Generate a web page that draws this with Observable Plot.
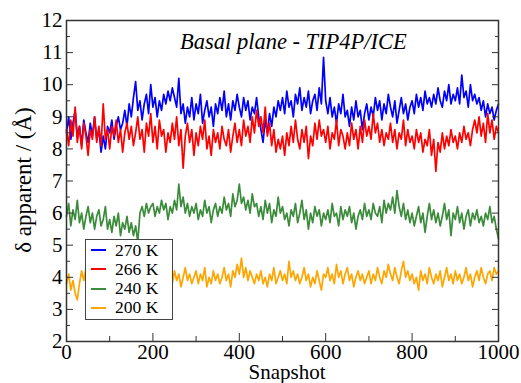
<!DOCTYPE html>
<html><head><meta charset="utf-8">
<script src="https://cdn.jsdelivr.net/npm/d3@7"></script>
<script src="https://cdn.jsdelivr.net/npm/@observablehq/plot@0.6"></script>
<style>
body{margin:0;background:#fff;}
#wrap{position:relative;width:521px;height:383px;overflow:hidden;font-family:'Liberation Serif','Times New Roman',serif;}
.ov{position:absolute;white-space:nowrap;color:#000;line-height:1;font-family:'Liberation Serif','Times New Roman',serif;}
#legend{position:absolute;box-sizing:border-box;left:85px;top:239px;width:88px;height:81px;border:1.5px solid #444;background:#fff;font-size:17.5px;line-height:19.3px;padding:0.5px 0 0 0;font-family:'Liberation Serif','Times New Roman',serif;}
#legend .row{display:flex;align-items:center;height:19.3px;}
#legend .sw{width:15px;height:0;border-top:2px solid;margin:0 9px 0 5px;}
</style></head>
<body><div id="wrap"></div>
<script>
const seriesNames = ["270 K", "266 K", "240 K", "200 K"];
const seriesColors = ["#0000ff", "#ff0000", "#3a8c3a", "#ffa500"];
const snapshotStep = 5;
const xMajor = [0, 200, 400, 600, 800, 1000];
const xMinor = [100, 300, 500, 700, 900];
const yMajor = [2, 3, 4, 5, 6, 7, 8, 9, 10, 11, 12];
const yMinor = [2.5, 3.5, 4.5, 5.5, 6.5, 7.5, 8.5, 9.5, 10.5, 11.5];

const v270 = [
8.5,9.0,8.3,8.8,9.2,8.4,8.7,8.1,8.9,8.5,
8.2,8.8,8.4,9.0,8.3,8.6,7.9,8.4,8.0,8.7,
8.5,8.9,8.3,8.7,9.0,8.6,8.8,9.2,8.7,9.4,
9.0,9.6,10.1,9.2,9.5,8.9,9.4,9.7,9.1,10.0,
9.3,9.6,9.0,9.5,9.2,9.7,9.4,9.8,9.5,9.9,
9.6,9.3,10.2,9.1,9.4,8.8,9.3,9.0,9.6,8.9,
9.4,9.1,9.7,8.8,9.2,9.5,9.0,9.3,8.7,9.4,
9.1,9.6,9.2,9.8,9.0,9.4,8.9,9.5,9.2,9.7,
9.3,9.0,9.6,9.2,9.5,8.9,9.3,9.1,9.6,9.0,
8.6,8.2,8.9,8.5,9.1,8.7,9.3,9.0,9.5,9.2,
9.6,9.1,9.8,9.3,9.5,9.0,9.7,9.4,9.9,9.2,
9.6,9.3,9.8,9.1,9.5,9.7,9.2,9.9,9.4,10.85,
9.5,9.1,9.6,9.0,9.3,8.8,9.4,9.1,9.7,9.0,
9.2,8.7,9.3,8.9,9.5,9.0,9.2,8.6,9.1,9.4,
8.9,9.3,9.0,9.6,9.2,9.5,8.9,9.4,9.1,9.7,
9.3,9.0,9.5,8.8,9.2,9.6,9.1,9.4,8.9,9.3,
9.5,9.1,9.7,9.3,9.6,9.2,9.8,9.4,9.6,9.3,
9.7,9.4,9.9,9.5,9.3,9.8,9.5,10.0,9.4,9.7,
9.5,9.9,9.4,10.3,9.6,9.8,9.3,10.0,9.5,9.7,
9.4,9.6,9.2,9.5,9.0,9.4,9.1,9.3,8.9,9.2,
9.4];
const v266 = [
8.6,8.1,8.9,8.4,9.3,8.2,8.7,8.0,8.8,8.4,
7.8,8.6,8.3,9.0,8.2,8.7,8.1,9.4,8.3,8.6,
8.0,8.7,8.4,8.9,8.2,8.6,7.9,8.5,8.8,8.3,
8.7,8.1,8.5,9.0,8.3,8.6,7.9,8.8,8.4,9.1,
8.2,8.7,8.0,8.9,8.4,8.6,7.9,8.5,8.2,8.8,
8.3,9.0,8.1,8.6,7.4,8.4,8.8,8.2,8.6,7.8,
8.5,8.1,8.7,8.3,8.9,8.0,8.4,7.8,8.6,8.2,
8.5,8.0,8.7,8.3,8.1,8.6,7.9,8.4,8.8,8.2,
8.6,8.1,8.9,8.4,8.7,8.2,9.0,8.5,9.2,8.7,
9.0,8.5,9.3,8.4,8.8,8.1,8.6,7.9,8.3,8.0,
8.4,7.8,8.5,8.1,8.7,8.2,8.9,8.3,8.0,8.6,
8.2,8.7,7.7,8.4,8.1,8.8,8.3,8.9,8.4,8.6,
8.2,8.7,8.0,8.5,8.3,8.9,8.1,8.6,8.4,8.0,
8.5,8.1,8.8,8.3,8.6,8.0,8.7,8.2,8.9,8.4,
8.7,8.3,9.1,8.5,8.8,8.2,8.6,8.1,8.5,8.3,
8.8,8.2,8.6,8.0,8.5,8.3,8.9,8.1,8.6,8.2,
8.4,8.0,8.6,8.2,8.5,7.9,8.3,8.1,8.6,7.8,
8.3,7.3,8.2,7.9,8.5,8.0,8.4,8.1,8.6,8.2,
8.4,8.0,8.5,8.2,8.7,8.3,8.5,8.1,8.6,8.9,
8.5,9.0,8.4,8.8,8.2,9.1,8.5,8.9,8.3,8.7,
8.5];
const v240 = [
5.9,6.3,5.6,6.1,5.8,6.4,5.7,6.0,5.5,5.9,
6.2,5.7,6.0,5.5,5.9,6.1,5.6,5.8,6.2,5.5,
5.8,5.4,5.9,5.6,6.0,5.3,5.7,5.5,5.9,5.4,
5.7,5.3,5.6,5.1,6.0,6.2,5.9,6.3,6.0,6.2,
6.3,5.9,6.2,6.0,6.4,6.1,6.3,5.8,6.2,6.0,
6.4,6.1,6.9,6.2,6.5,6.0,6.3,5.9,6.2,6.0,
6.3,5.8,6.1,5.9,6.4,6.0,6.2,5.7,6.1,6.3,
5.9,6.2,6.0,6.5,6.1,6.3,5.9,6.6,6.2,6.4,
6.9,6.3,6.5,6.1,6.4,6.0,6.6,6.2,6.3,5.9,
6.2,5.8,6.4,6.0,6.3,5.7,6.1,5.9,6.5,6.0,
6.2,5.8,6.0,5.6,6.1,5.9,6.3,5.7,6.0,6.4,
5.8,6.1,5.5,6.0,5.7,6.2,5.9,6.1,5.6,6.0,
5.8,6.1,5.7,6.3,5.9,6.0,5.6,6.2,5.8,6.1,
5.9,6.2,5.7,6.0,5.5,5.9,6.1,5.8,6.3,5.9,
6.1,5.8,6.3,6.0,5.9,6.2,5.7,6.4,6.0,6.3,
6.1,6.5,6.0,6.7,6.2,5.9,6.3,5.8,6.1,5.7,
6.0,5.6,5.9,6.2,5.7,6.0,5.4,5.9,6.3,5.8,
6.1,5.7,6.0,5.6,5.9,6.3,5.8,6.1,5.3,6.0,
5.8,6.2,5.7,6.0,5.5,5.9,6.1,5.6,6.0,5.8,
6.1,5.7,5.9,5.6,6.0,5.8,6.2,5.7,5.9,5.5,
5.2];
const v200 = [
3.8,4.1,3.6,3.9,3.5,3.3,3.8,4.2,3.9,4.3,
4.0,3.7,4.1,3.9,4.3,3.8,4.0,3.7,4.2,3.9,
4.1,3.8,4.3,3.9,4.0,3.7,4.2,3.8,4.1,3.9,
4.2,3.8,4.0,3.6,4.1,3.9,4.3,3.8,4.0,4.2,
3.9,4.1,3.8,4.4,4.0,4.2,3.9,4.3,4.1,3.8,
4.2,3.9,4.1,3.7,4.0,4.3,3.9,4.1,3.8,4.0,
4.2,3.8,4.1,3.9,4.3,3.7,4.0,3.8,4.2,3.9,
4.1,3.8,4.0,4.3,3.9,4.1,3.7,4.2,4.0,4.4,
4.1,4.6,4.0,4.3,3.9,4.2,4.0,3.8,4.1,3.9,
4.2,3.8,4.0,3.7,4.1,3.9,4.3,3.8,4.0,4.2,
3.9,4.1,3.8,4.5,4.0,4.2,3.9,4.1,3.8,4.0,
4.3,3.9,4.1,3.7,4.0,3.8,4.2,3.9,3.6,4.1,
4.0,4.3,3.9,4.1,3.8,4.4,4.0,4.2,3.8,4.1,
4.3,3.9,4.1,3.7,4.0,4.2,3.9,4.1,3.8,4.0,
4.2,3.8,4.1,3.9,4.3,4.0,3.8,4.2,4.0,4.4,
4.1,3.9,4.3,4.0,3.8,4.2,4.5,4.0,4.2,3.9,
4.1,3.8,4.0,3.6,4.2,3.9,4.1,3.8,4.3,4.0,
3.8,4.1,3.9,4.2,3.7,4.0,4.3,3.9,4.1,3.8,
4.2,3.9,4.1,3.8,4.0,4.3,3.9,4.1,3.7,4.0,
4.2,3.9,4.3,4.0,3.8,4.1,4.2,3.9,4.3,4.1,
4.2];
const seriesValues = [v270, v266, v240, v200];

const rows = seriesValues.flatMap((vals, i) =>
  vals.map((v, j) => ({snapshot: j * snapshotStep, value: v, series: seriesNames[i]})));

const FONT = "'Liberation Serif','Times New Roman',serif";
const chart = Plot.plot({
  width: 521, height: 383,
  marginLeft: 66, marginRight: 23, marginTop: 20, marginBottom: 42,
  x: {domain: [0, 1000]},
  y: {domain: [2, 12]},
  color: {domain: seriesNames, range: seriesColors},
  style: {fontFamily: FONT, fontSize: "21px", color: "#000", background: "#fff", overflow: "visible"},
  marks: [
    ...seriesNames.map(name => Plot.line(rows.filter(d => d.series === name),
      {x: "snapshot", y: "value", stroke: "series", strokeWidth: 1.7})),
    Plot.frame({stroke: "#333", strokeWidth: 1.5}),
    Plot.axisX({ticks: xMajor, tickSize: 0, tickPadding: 3, tickFormat: d => String(d), label: null, fontSize: 21}),
    Plot.axisX({ticks: xMajor, text: null, tickSize: -8, label: null, stroke: "#333"}),
    Plot.axisX({ticks: xMinor, text: null, tickSize: -5, label: null, stroke: "#333"}),
    Plot.axisY({ticks: yMajor, tickSize: 0, tickPadding: 4, tickFormat: d => String(d), label: null, fontSize: 21}),
    Plot.axisY({ticks: yMajor, text: null, tickSize: -7, label: null, stroke: "#333"}),
    Plot.axisY({ticks: yMinor, text: null, tickSize: -4, label: null, stroke: "#333"}),
    Plot.axisY({anchor: "right", ticks: yMajor, text: null, tickSize: -7, label: null, stroke: "#333"}),
    Plot.axisY({anchor: "right", ticks: yMinor, text: null, tickSize: -4, label: null, stroke: "#333"})
  ]
});
const wrap = document.getElementById("wrap");
wrap.appendChild(chart);

const title = document.createElement("div");
title.className = "ov";
title.style.cssText = "left:180px;top:31px;font-size:22.5px;font-style:italic;";
title.textContent = "Basal plane - TIP4P/ICE";
wrap.appendChild(title);

const xl = document.createElement("div");
xl.className = "ov";
xl.style.cssText = "left:287px;top:362px;font-size:21px;transform:translateX(-50%);";
xl.textContent = "Snapshot";
wrap.appendChild(xl);

const yl = document.createElement("div");
yl.className = "ov";
yl.style.cssText = "left:23px;top:180px;font-size:23px;transform:translate(-50%,-50%) rotate(-90deg);";
yl.textContent = "δ apparent / (Å)";
wrap.appendChild(yl);

const lg = document.createElement("div");
lg.id = "legend";
seriesNames.forEach((n, i) => {
  const r = document.createElement("div");
  r.className = "row";
  const s = document.createElement("span");
  s.className = "sw";
  s.style.borderTopColor = seriesColors[i];
  const t = document.createElement("span");
  t.textContent = n;
  r.appendChild(s); r.appendChild(t);
  lg.appendChild(r);
});
wrap.appendChild(lg);
</script>
</body></html>
